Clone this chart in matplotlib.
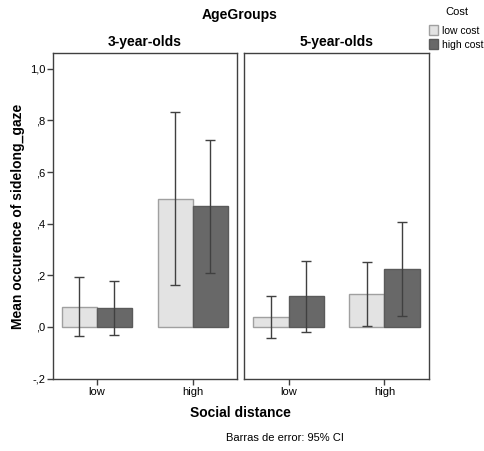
import matplotlib
matplotlib.use("Agg")
import matplotlib.pyplot as plt
import numpy as np
from matplotlib.patches import Patch

plt.rcParams['font.family'] = ['Liberation Sans', 'DejaVu Sans']

panels = ["3-year-olds", "5-year-olds"]
categories = ["low", "high"]
series = ["low cost", "high cost"]
means = {
    "3-year-olds": {"low cost": [0.078, 0.497], "high cost": [0.074, 0.467]},
    "5-year-olds": {"low cost": [0.039, 0.127], "high cost": [0.119, 0.224]},
}
ci_low = {
    "3-year-olds": {"low cost": [-0.036, 0.162], "high cost": [-0.032, 0.208]},
    "5-year-olds": {"low cost": [-0.043, 0.003], "high cost": [-0.019, 0.041]},
}
ci_high = {
    "3-year-olds": {"low cost": [0.193, 0.832], "high cost": [0.178, 0.724]},
    "5-year-olds": {"low cost": [0.120, 0.252], "high cost": [0.255, 0.405]},
}
yticks = [-0.2, 0.0, 0.2, 0.4, 0.6, 0.8, 1.0]
ytick_labels = ["-,2", ",0", ",2", ",4", ",6", ",8", "1,0"]

colors = {"low cost": "#e3e3e3", "high cost": "#686868"}
edges = {"low cost": "#a0a0a0", "high cost": "#5a5a5a"}

fig = plt.figure(figsize=(4.84, 4.51), dpi=100)
W, H = 484, 451
def ax_rect(x0, y0, x1, y1):
    return [x0 / W, 1 - y1 / H, (x1 - x0) / W, (y1 - y0) / H]

axes = [fig.add_axes(ax_rect(52.5, 53.3, 237, 378.5)),
        fig.add_axes(ax_rect(244, 53.3, 429, 378.5))]

bw = 0.366
x = np.arange(len(categories))
for i, (ax, p) in enumerate(zip(axes, panels)):
    for j, s in enumerate(series):
        pos = x + (j - 0.5) * bw
        m = np.array(means[p][s])
        lo = m - np.array(ci_low[p][s])
        hi = np.array(ci_high[p][s]) - m
        ax.bar(pos, m, width=bw, color=colors[s], edgecolor=edges[s], linewidth=1.0, zorder=2)
        ax.errorbar(pos, m, yerr=[lo, hi], fmt='none', ecolor='#404040',
                    elinewidth=1.0, capsize=3.3, capthick=1.0, zorder=3)
    ax.set_xlim(-0.465, 1.465)
    ax.set_ylim(-0.2, 1.06)
    ax.set_xticks(x)
    ax.set_xticklabels(categories, fontsize=8)
    for sp in ax.spines.values():
        sp.set_color('#404040')
        sp.set_linewidth(1.0)
    ax.tick_params(axis='x', direction='out', length=4, width=1, color='#404040', pad=2)
    ax.set_title(p, fontsize=10, fontweight='bold', pad=5)
    if i == 0:
        ax.set_yticks(yticks)
        ax.set_yticklabels(ytick_labels, fontsize=8)
        ax.tick_params(axis='y', direction='out', length=4, width=1, color='#404040', pad=1)
        ax.set_ylabel("Mean occurence of sidelong_gaze", fontsize=10, fontweight='bold', labelpad=4)
    else:
        ax.set_yticks([])

fig.text(240 / W, 1 - 14.5 / H, "AgeGroups", fontsize=10, fontweight='bold', ha='center', va='center')
fig.text(240 / W, 1 - 413 / H, "Social distance", fontsize=10, fontweight='bold', ha='center', va='center')
fig.text(285 / W, 1 - 438 / H, "Barras de error: 95% CI", fontsize=8, ha='center', va='center')

fig.text(457 / W, 1 - 12 / H, "Cost", fontsize=8, ha='center', va='center')
handles = [Patch(facecolor=colors[s], edgecolor=edges[s], label=s) for s in series]
leg = fig.legend(handles=handles, loc='upper left',
                 bbox_to_anchor=(427 / W, 1 - 23 / H), frameon=False,
                 fontsize=7.5, handlelength=0.9, handleheight=1.1,
                 handletextpad=0.3, labelspacing=0.35, borderpad=0.2, borderaxespad=0)

fig.savefig("out.png", dpi=100)
